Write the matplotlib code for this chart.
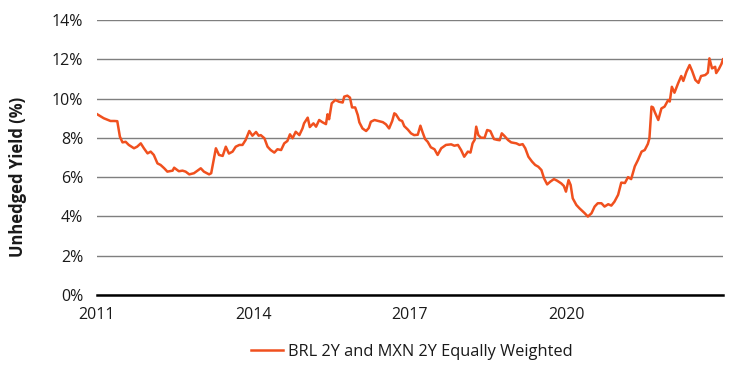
import numpy as np
import matplotlib
matplotlib.use("Agg")
import matplotlib.pyplot as plt
from matplotlib.ticker import FuncFormatter

plt.rcParams['font.family'] = ['Open Sans', 'DejaVu Sans']

# values (decimal year, yield %)
years = [
    2011.00, 2011.13, 2011.26, 2011.33, 2011.39, 2011.44, 2011.49, 2011.55, 2011.61, 2011.71,
    2011.77, 2011.84, 2011.90, 2011.97, 2012.03, 2012.09, 2012.16, 2012.22, 2012.29, 2012.35,
    2012.45, 2012.48, 2012.57, 2012.64, 2012.70, 2012.77, 2012.86, 2012.99, 2013.05, 2013.15,
    2013.19, 2013.28, 2013.34, 2013.41, 2013.47, 2013.53, 2013.60, 2013.66, 2013.73, 2013.79,
    2013.85, 2013.92, 2013.98, 2014.05, 2014.10, 2014.14, 2014.21, 2014.27, 2014.33, 2014.40,
    2014.46, 2014.53, 2014.59, 2014.65, 2014.70, 2014.75, 2014.81, 2014.88, 2014.94, 2014.97,
    2015.04, 2015.08, 2015.15, 2015.20, 2015.26, 2015.32, 2015.39, 2015.42, 2015.45, 2015.50,
    2015.57, 2015.64, 2015.71, 2015.74, 2015.80, 2015.85, 2015.89, 2015.95, 2016.00, 2016.03,
    2016.09, 2016.16, 2016.21, 2016.25, 2016.32, 2016.41, 2016.48, 2016.54, 2016.60, 2016.66,
    2016.70, 2016.73, 2016.80, 2016.85, 2016.89, 2016.96, 2017.02, 2017.08, 2017.15, 2017.20,
    2017.24, 2017.29, 2017.34, 2017.40, 2017.47, 2017.53, 2017.60, 2017.69, 2017.79, 2017.85,
    2017.92, 2017.98, 2018.04, 2018.11, 2018.16, 2018.20, 2018.24, 2018.27, 2018.31, 2018.36,
    2018.43, 2018.48, 2018.54, 2018.61, 2018.67, 2018.72, 2018.76, 2018.81, 2018.88, 2018.94,
    2019.04, 2019.10, 2019.16, 2019.21, 2019.27, 2019.34, 2019.40, 2019.46, 2019.52, 2019.57,
    2019.63, 2019.69, 2019.76, 2019.82, 2019.90, 2019.95, 2019.99, 2020.04, 2020.08, 2020.12,
    2020.19, 2020.25, 2020.35, 2020.41, 2020.48, 2020.54, 2020.60, 2020.67, 2020.73, 2020.80,
    2020.86, 2020.92, 2020.99, 2021.05, 2021.12, 2021.18, 2021.24, 2021.31, 2021.37, 2021.44,
    2021.50, 2021.56, 2021.59, 2021.63, 2021.66, 2021.69, 2021.76, 2021.82, 2021.88, 2021.95,
    2021.98, 2022.02, 2022.07, 2022.14, 2022.20, 2022.24, 2022.30, 2022.36, 2022.41, 2022.47,
    2022.53, 2022.58, 2022.66, 2022.71, 2022.74, 2022.79, 2022.85, 2022.87, 2022.92, 2022.97,
    2023.00,
]
yields = [
    9.21, 9.00, 8.86, 8.86, 8.85, 8.06, 7.77, 7.80, 7.64, 7.47,
    7.55, 7.72, 7.47, 7.21, 7.30, 7.13, 6.70, 6.62, 6.45, 6.28,
    6.33, 6.48, 6.30, 6.33, 6.28, 6.14, 6.20, 6.45, 6.28, 6.14,
    6.20, 7.47, 7.13, 7.08, 7.55, 7.20, 7.30, 7.55, 7.64, 7.64,
    7.89, 8.35, 8.11, 8.30, 8.11, 8.14, 7.98, 7.55, 7.38, 7.25,
    7.42, 7.38, 7.72, 7.84, 8.18, 7.98, 8.31, 8.14, 8.48, 8.74,
    9.03, 8.55, 8.74, 8.57, 8.91, 8.80, 8.70, 9.20, 8.95, 9.76,
    9.93, 9.84, 9.80, 10.10, 10.15, 10.05, 9.55, 9.55, 9.16, 8.79,
    8.48, 8.35, 8.50, 8.82, 8.91, 8.85, 8.80, 8.69, 8.48, 8.86,
    9.25, 9.20, 8.91, 8.86, 8.60, 8.42, 8.23, 8.14, 8.16, 8.62,
    8.30, 7.94, 7.80, 7.52, 7.42, 7.13, 7.47, 7.64, 7.67, 7.60,
    7.64, 7.38, 7.04, 7.30, 7.25, 7.72, 7.90, 8.57, 8.14, 8.01,
    8.00, 8.40, 8.35, 7.94, 7.90, 7.88, 8.23, 8.10, 7.89, 7.77,
    7.72, 7.64, 7.68, 7.47, 7.04, 6.79, 6.62, 6.53, 6.36, 5.94,
    5.63, 5.77, 5.90, 5.82, 5.68, 5.55, 5.26, 5.85, 5.60, 4.92,
    4.58, 4.41, 4.16, 3.99, 4.16, 4.50, 4.67, 4.67, 4.50, 4.62,
    4.55, 4.75, 5.10, 5.72, 5.70, 6.00, 5.90, 6.55, 6.87, 7.30,
    7.38, 7.69, 7.98, 9.59, 9.55, 9.33, 8.91, 9.50, 9.59, 9.93,
    9.85, 10.60, 10.30, 10.78, 11.15, 10.90, 11.37, 11.71, 11.40, 10.95,
    10.80, 11.15, 11.20, 11.32, 12.05, 11.54, 11.62, 11.30, 11.50, 11.76,
    12.00,
]
series_name = "BRL 2Y and MXN 2Y Equally Weighted"
x_ticks = [2011, 2014, 2017, 2020]
y_ticks = [0, 2, 4, 6, 8, 10, 12, 14]

line_color = "#f0501e"
text_color = "#1a1a1a"

fig = plt.figure(figsize=(7.4, 3.65), dpi=100)
ax = fig.add_axes([0.131, 0.192, 0.846, 0.753])

ax.plot(years, yields, color=line_color, lw=1.8, label=series_name, zorder=3)

ax.set_xlim(2011, 2023)
ax.set_ylim(0, 14)
ax.set_xticks(x_ticks)
ax.set_yticks(y_ticks)
ax.yaxis.set_major_formatter(FuncFormatter(lambda v, p: "{:.0f}%".format(v)))

# horizontal grid only
ax.grid(axis="y", color="#7f7f7f", lw=1.0)
ax.set_axisbelow(True)
for s in ["top", "right", "left"]:
    ax.spines[s].set_visible(False)
ax.spines["bottom"].set_color("black")
ax.spines["bottom"].set_linewidth(1.8)
ax.spines["bottom"].set_zorder(4)

ax.tick_params(axis="both", length=0, labelsize=11.5, colors=text_color)
ax.tick_params(axis="y", pad=10)
ax.tick_params(axis="x", pad=9)

ax.set_ylabel("Unhedged Yield (%)", fontsize=12, fontweight="bold", color=text_color)
ax.yaxis.set_label_coords(-0.112, 0.43)

ax.legend(loc="upper center", bbox_to_anchor=(0.503, -0.125), frameon=False,
          fontsize=11.8, handlelength=2.0, handletextpad=0.3, labelcolor=text_color)

fig.savefig("out.png", dpi=100)
